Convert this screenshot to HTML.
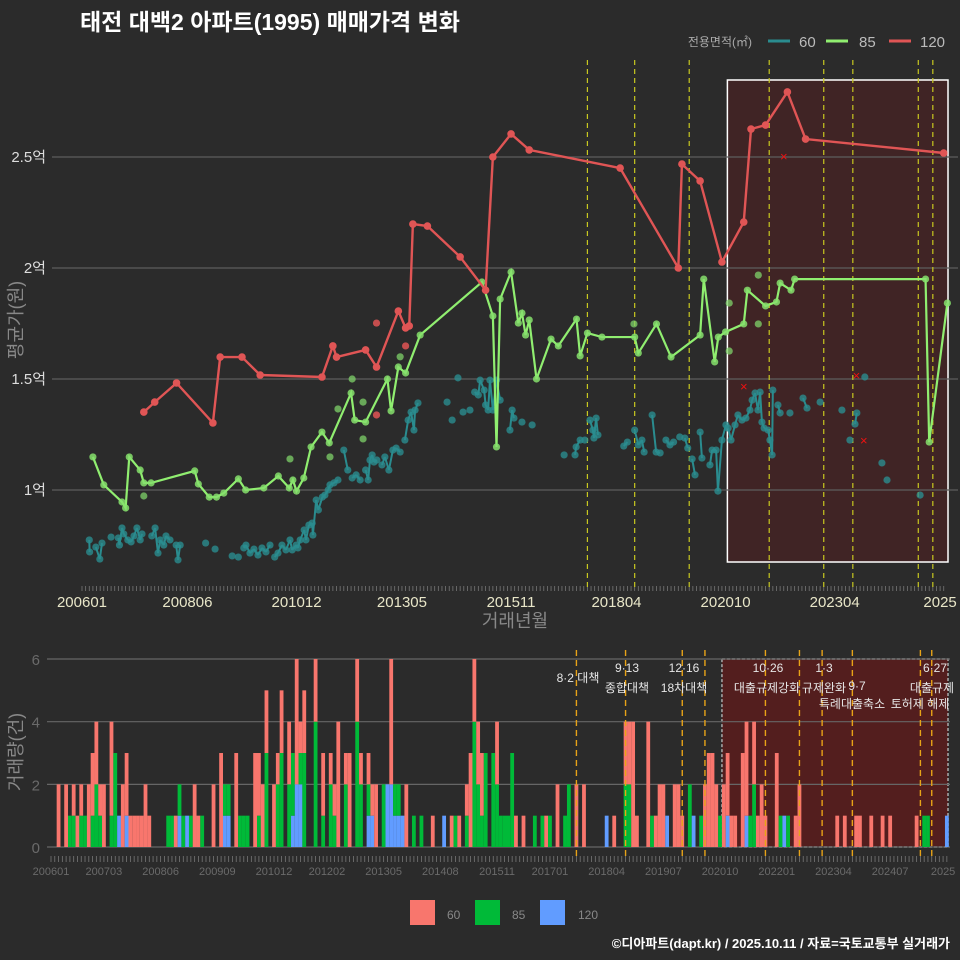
<!DOCTYPE html>
<html><head><meta charset="utf-8"><style>
html,body{margin:0;padding:0;background:#2b2b2b;}
svg{display:block;font-family:"Liberation Sans","Noto Sans CJK KR",sans-serif;}
</style></head><body>
<svg id="chart" width="960" height="960" viewBox="0 0 960 960">
<rect x="0" y="0" width="960" height="960" fill="#2b2b2b"/>
<text x="80" y="30" font-size="23" font-weight="bold" fill="#ffffff">태전 대백2 아파트(1995) 매매가격 변화</text>
<g>
<text x="752" y="46" font-size="12" fill="#aaaaaa" text-anchor="end">전용면적(㎡)</text>
<line x1="768" y1="41" x2="790" y2="41" stroke="#2a8c8f" stroke-width="3"/>
<text x="799" y="47" font-size="15" fill="#bbbbbb">60</text>
<line x1="826" y1="41" x2="848" y2="41" stroke="#90ee70" stroke-width="3"/>
<text x="859" y="47" font-size="15" fill="#bbbbbb">85</text>
<line x1="889" y1="41" x2="911" y2="41" stroke="#e05555" stroke-width="3"/>
<text x="920" y="47" font-size="15" fill="#bbbbbb">120</text>
</g>
<g id="topPlot"></g>
<g id="botPlot"></g>
<text x="515" y="627" font-size="18" fill="#888888" text-anchor="middle">거래년월</text>
<text transform="translate(22,320) rotate(-90)" font-size="18" fill="#888888" text-anchor="middle">평균가(원)</text>
<text transform="translate(22,752) rotate(-90)" font-size="18" fill="#888888" text-anchor="middle">거래량(건)</text>
<g>
<rect x="410" y="900" width="25" height="25" fill="#f8766d"/>
<text x="447" y="919" font-size="12" fill="#888888">60</text>
<rect x="475" y="900" width="25" height="25" fill="#00ba38"/>
<text x="512" y="919" font-size="12" fill="#888888">85</text>
<rect x="540" y="900" width="25" height="25" fill="#619cff"/>
<text x="578" y="919" font-size="12" fill="#888888">120</text>
</g>
<text x="950" y="948" font-size="13" font-weight="bold" fill="#ffffff" text-anchor="end">©디아파트(dapt.kr) / 2025.10.11 / 자료=국토교통부 실거래가</text>
</svg>
<script>
const redMonths=[17,20,26,36,38,44,49,66,69,70,78,81,87,89,90,91,95,104,111,113,118,123,148,164,165,170,176,182,184,188,194,199,237];
const redValues=[1.351,1.396,1.482,1.302,1.599,1.599,1.518,1.509,1.649,1.599,1.631,1.554,1.806,1.730,1.739,2.198,2.189,2.05,1.90,2.5,2.604,2.532,2.45,2.0,2.468,2.392,2.027,2.207,2.626,2.644,2.793,2.581,2.518];
const redExtraMonths=[81,81,89];
const redExtraValues=[1.752,1.338,1.649];
const crossMonths=[182,193,213,215];
const crossValues=[1.464,2.5,1.514,1.221];
const greenMonths=[3,6,11,12,13,16,17,19,31,32,35,37,39,43,45,50,54,57,58,59,61,63,66,68,74,75,78,84,85,87,89,93,110,113,114,115,118,120,121,122,123,125,129,131,136,137,139,143,152,153,158,162,170,171,174,175,177,182,183,188,191,192,195,196,232,233,238];
const greenValues=[1.149,1.023,0.946,0.919,1.149,1.09,1.032,1.032,1.086,1.027,0.968,0.968,0.986,1.05,1.0,1.009,1.063,1.009,1.045,0.995,1.054,1.194,1.261,1.212,1.437,1.315,1.306,1.5,1.356,1.554,1.527,1.698,1.937,1.784,1.194,1.86,1.982,1.752,1.797,1.698,1.766,1.5,1.68,1.649,1.77,1.604,1.707,1.689,1.689,1.617,1.748,1.599,1.698,1.95,1.577,1.689,1.712,1.748,1.9,1.829,1.847,1.932,1.9,1.95,1.95,1.216,1.842];
const greenExtraMonths=[57.2,17,74.3,77.3,77.3,70.4,68.2,87.5,151.8,186,186,178,178];
const greenExtraValues=[1.14,0.973,1.5,1.396,1.23,1.365,1.149,1.6,1.748,1.968,1.748,1.842,1.626];
const tealMonths=[2,2.1,3.8,4.9,5.5,8,10,10.3,11,11.5,12.6,13.5,14.3,15.1,16,16.5,19.2,20.1,20.9,21.5,22.5,23.1,24.2,25.9,26.4,27,34,36.6,41.3,43,44.5,45.1,46.2,47.3,48.4,49.5,50.6,51.7,53,53.9,55,56.1,57.2,57.8,58.9,59.4,60,61.1,61.6,62.4,63.3,63.5,64.4,65,66.1,66.8,67.7,68.2,69.3,70.4,72,73.1,74.3,75.4,76.5,78,78.7,79.2,79.8,80.3,81.1,82.5,83.3,84.4,85.5,86.4,87.5,88.8,89.7,90.5,91.3,91.6,92.4,100.4,101.8,103.4,104.8,106.7,108,109,109.5,110.6,111,111.7,112.2,113,114,115,117.7,118.3,118.8,121,123.8,132.6,135.6,135.9,137,138.3,139.7,140.5,140.8,141.4,141.9,149,150,152,153,154,154.6,156.8,157.9,159,160.6,161.7,162.7,164.4,165.8,166.6,167.8,168.6,170,170.5,172.7,173.3,174.4,174.9,176,177.1,177.7,178.5,179.6,180.4,181.5,182.6,183.7,184.3,185.1,185.9,186.5,187,187.6,188.7,189.2,189.8,190,191.4,192,194.7,198.3,199.4,203,209,211.2,212.6,213.1,215.3,220,221.4,230.5];
const tealValues=[0.775,0.721,0.743,0.689,0.761,0.788,0.784,0.752,0.829,0.802,0.775,0.766,0.793,0.829,0.775,0.802,0.793,0.829,0.716,0.775,0.752,0.793,0.775,0.752,0.685,0.752,0.761,0.734,0.703,0.698,0.739,0.752,0.716,0.734,0.707,0.739,0.721,0.752,0.698,0.716,0.752,0.730,0.775,0.730,0.752,0.739,0.775,0.820,0.775,0.842,0.851,0.797,0.955,0.910,0.968,0.977,1.0,1.023,1.032,1.045,1.18,1.09,1.054,1.068,1.045,1.09,1.045,1.135,1.158,1.126,1.135,1.113,1.149,1.09,1.18,1.189,1.171,1.225,1.315,1.351,1.270,1.360,1.392,1.396,1.315,1.505,1.351,1.360,1.441,1.428,1.495,1.45,1.383,1.36,1.495,1.36,1.495,1.405,1.27,1.36,1.324,1.306,1.293,1.158,1.158,1.194,1.225,1.225,1.315,1.27,1.234,1.324,1.248,1.198,1.216,1.27,1.203,1.225,1.171,1.338,1.171,1.167,1.225,1.203,1.216,1.239,1.234,1.189,1.14,1.068,1.261,1.144,1.113,1.18,1.18,0.995,1.225,1.293,1.279,1.225,1.293,1.338,1.315,1.324,1.36,1.405,1.437,1.36,1.441,1.306,1.279,1.27,1.225,1.158,1.45,1.383,1.347,1.347,1.414,1.369,1.396,1.36,1.225,1.297,1.347,1.509,1.122,1.045,0.977];
const yTicks=[1,1.5,2,2.5];
const yTickLabels=["1억","1.5억","2억","2.5억"];
const topTickMonths=[0,29,59,88,118,147,177,207,236];
const topTickLabels=["200601","200806","201012","201305","201511","201804","202010","202304","2025"];
const policyTopMonths=[139,152,167,189,204,212,230,234];
const barMonths=[2,4,5,6,7,8,9,10,11,12,13,14,16,17,18,19,20,21,22,23,24,25,26,31,32,33,34,35,36,37,38,39,40,43,45,46,47,49,50,51,52,54,55,56,57,59,60,61,63,64,65,66,67,70,72,74,75,76,78,79,81,82,84,85,86,88,89,90,91,92,93,94,96,98,101,104,106,107,108,110,111,112,113,114,115,117,118,119,120,121,122,123,125,128,130,131,132,134,136,137,139,141,147,149,152,153,154,155,158,159,160,161,162,163,165,166,167,169,170,172,173,174,175,176,177,178,179,180,181,183,184,185,186,187,188,189,192,193,194,195,197,198,208,210,213,214,217,220,222,229,231,232,237];
const cnt60=[2,2,0,1,1,1,0,2,2,2,1,2,3,0,0,2,2,1,1,1,1,2,1,0,0,1,0,0,0,0,2,1,0,2,3,0,0,3,0,0,0,3,2,2,2,2,1,2,2,0,4,1,2,2,2,1,1,4,1,3,2,1,1,1,2,0,0,4,0,0,0,2,0,0,1,0,1,0,1,1,3,2,2,2,0,0,2,0,0,0,0,1,1,0,0,1,0,2,0,0,2,2,0,1,2,2,4,1,4,0,1,2,2,0,2,2,1,0,0,0,2,3,3,2,0,2,2,1,1,3,3,0,2,1,2,1,3,0,0,0,1,2,1,1,1,1,1,1,1,1,0,0,0];
const cnt85=[0,0,1,1,0,1,1,0,1,2,1,0,1,3,0,0,0,0,0,0,0,0,0,1,1,0,1,1,0,1,0,0,1,0,0,1,1,0,1,1,1,0,1,0,3,0,2,3,2,2,0,1,3,4,1,2,1,0,2,0,4,2,1,0,0,2,0,0,1,1,0,0,1,1,0,0,0,1,0,1,0,4,2,1,3,3,2,1,1,1,3,0,0,1,1,0,1,0,1,2,0,0,0,0,2,2,0,0,0,1,0,0,0,0,0,0,0,2,0,1,0,0,0,0,1,0,0,0,0,0,0,1,2,0,0,0,0,1,0,1,0,0,0,0,0,0,0,0,0,0,1,1,0];
const cnt120=[0,0,0,0,0,0,0,0,0,0,0,0,0,0,1,0,1,0,0,0,0,0,0,0,0,0,1,0,1,0,0,0,0,0,0,1,1,0,0,0,0,0,0,0,0,0,0,0,0,1,2,2,0,0,0,0,0,0,0,0,0,0,1,1,0,0,2,2,1,1,1,0,0,0,0,1,0,0,0,0,0,0,0,0,0,0,0,0,0,0,0,0,0,0,0,0,0,0,0,0,0,0,1,0,0,0,0,0,0,0,0,0,0,1,0,0,0,0,1,0,0,0,0,0,0,0,1,0,0,0,1,0,0,0,0,0,0,0,1,0,0,0,0,0,0,0,0,0,0,0,0,0,1];
const botTicks=[0,2,4,6];
const botTickMonths=[0,14,29,44,59,73,88,103,118,132,147,162,177,192,207,222,236];
const botTickLabels=["200601","200703","200806","200909","201012","201202","201305","201408","201511","201701","201804","201907","202010","202201","202304","202407","2025"];
const policyBotMonths=[139,152,167,173,189,198,204,212,230,233];

const NS="http://www.w3.org/2000/svg";
const xT=m=>82+m*3.636, yT=v=>490-(v-1)*222;
const xB=m=>51+m*3.78, yB=c=>847-c*31.33;
function mk(parent,tag,attrs,text){const e=document.createElementNS(NS,tag);for(const k in attrs)e.setAttribute(k,attrs[k]);if(text!==undefined)e.textContent=text;parent.appendChild(e);return e;}
const topG=document.getElementById('topPlot'), botG=document.getElementById('botPlot');

let hl=mk(topG,'rect',{x:xT(177.5),y:80,width:948-xT(177.5),height:482,fill:'#5a1c1f','fill-opacity':0.45,stroke:'#ffffff','stroke-width':1.5});


yTicks.forEach((v,i)=>{
  let g=mk(topG,'line',{x1:52,x2:958,y1:yT(v),y2:yT(v),stroke:'#5e5e5e','stroke-width':1.2});
  
  
  let t=mk(topG,'text',{x:46,y:yT(v)+5,'font-size':15,fill:'#dddddd','text-anchor':'end'},yTickLabels[i]);
  
  
});
for(let m=0;m<=237;m++){
  let tk=mk(topG,'line',{x1:xT(m),x2:xT(m),y1:586,y2:591,stroke:'#777','stroke-width':0.8});
  
  
}
topTickMonths.forEach((m,i)=>{
  let t=mk(topG,'text',{x:xT(m),y:607,'font-size':15,fill:'#e8e6c8','text-anchor':'middle'},topTickLabels[i]);
  
  
});
policyTopMonths.forEach(m=>{
  let l=mk(topG,'line',{x1:xT(m),x2:xT(m),y1:60,y2:590,stroke:'#c8c820','stroke-width':1.2,'stroke-dasharray':'5,4'});
  
  
});
for(let i=1;i<tealMonths.length;i++){
  if(tealMonths[i]-tealMonths[i-1]<=1.2){
    let s=mk(topG,'line',{x1:xT(tealMonths[i-1]),y1:yT(tealValues[i-1]),x2:xT(tealMonths[i]),y2:yT(tealValues[i]),stroke:'#2a8c8f','stroke-width':2});
    
    
  }
}
tealMonths.forEach((m,i)=>{
  let c=mk(topG,'circle',{cx:xT(m),cy:yT(tealValues[i]),r:3.6,fill:'#2a8c8f','fill-opacity':0.8});
  
  
});
greenExtraMonths.forEach((m,i)=>{
  let c=mk(topG,'circle',{cx:xT(m),cy:yT(greenExtraValues[i]),r:3.6,fill:'#7fd36a','fill-opacity':0.75});
  
  
});
let gp=mk(topG,'polyline',{points:greenMonths.map((m,i)=>xT(m)+','+yT(greenValues[i])).join(' '),fill:'none',stroke:'#90ee70','stroke-width':2.2});


greenMonths.forEach((m,i)=>{
  let c=mk(topG,'circle',{cx:xT(m),cy:yT(greenValues[i]),r:3.6,fill:'#86e06c','fill-opacity':0.85});
  
  
});
redExtraMonths.forEach((m,i)=>{
  let c=mk(topG,'circle',{cx:xT(m),cy:yT(redExtraValues[i]),r:3.6,fill:'#e05555','fill-opacity':0.85});
  
  
});
let rp=mk(topG,'polyline',{points:redMonths.map((m,i)=>xT(m)+','+yT(redValues[i])).join(' '),fill:'none',stroke:'#e05555','stroke-width':2.4});


redMonths.forEach((m,i)=>{
  let c=mk(topG,'circle',{cx:xT(m),cy:yT(redValues[i]),r:3.8,fill:'#e05555'});
  
  
});
crossMonths.forEach((m,i)=>{
  let t=mk(topG,'text',{x:xT(m),y:yT(crossValues[i])+4,'font-size':13,fill:'#ee1111','text-anchor':'middle'},'×');
  
  
});

let bh=mk(botG,'rect',{x:xB(177.5),y:659,width:948-xB(177.5),height:188,fill:'#5a1c1c','fill-opacity':0.85,stroke:'#aaaaaa','stroke-width':1.5,'stroke-dasharray':'3,2'});


botTicks.forEach(c=>{
  let g=mk(botG,'line',{x1:47,x2:950,y1:yB(c),y2:yB(c),stroke:'#666','stroke-width':1.2});
  
  
  let t=mk(botG,'text',{x:40,y:yB(c)+6,'font-size':15,fill:'#6a6a6a','text-anchor':'end'},String(c));
  
  
});
barMonths.forEach((m,i)=>{
  const x=xB(m)-1.9,w=3.8;
  let base=0;
  [[cnt120[i],'#619cff','bar-120'],[cnt85[i],'#00ba38','bar-85'],[cnt60[i],'#f8766d','bar-60']].forEach(([v,col,nm])=>{
    if(v>0){
      let r=mk(botG,'rect',{x:x,y:yB(base+v),width:w,height:yB(base)-yB(base+v),fill:col});
      
      
      base+=v;
    }
  });
});
policyBotMonths.forEach(m=>{
  let l=mk(botG,'line',{x1:xB(m),x2:xB(m),y1:650,y2:858,stroke:'#e8a317','stroke-width':1.4,'stroke-dasharray':'6,4'});
  
  
});
for(let m=0;m<=237;m++){
  let tk=mk(botG,'line',{x1:xB(m),x2:xB(m),y1:856,y2:862,stroke:'#777','stroke-width':0.8});
  
  
}
botTickMonths.forEach((m,i)=>{
  let t=mk(botG,'text',{x:xB(m),y:875,'font-size':11,fill:'#6a6a6a','text-anchor':'middle'},botTickLabels[i]);
  
  
});
const notes=[["8·2 대책",578,682,"middle"],["9·13",627,672,"middle"],["종합대책",627,692,"middle"],["12·16",684,672,"middle"],["18차대책",684,692,"middle"],["10·26",768,672,"middle"],["대출규제강화",767,692,"middle"],["1·3",824,672,"middle"],["규제완화",824,692,"middle"],["9·7",857,690,"middle"],["특례대출축소",852,708,"middle"],["토허제 해제",920,708,"middle"],["6·27",935,672,"middle"],["대출규제",932,692,"middle"]];
notes.forEach(n=>{
  let t=mk(botG,'text',{x:n[1],y:n[2],'font-size':12,fill:'#e6e6e6','text-anchor':n[3]},n[0]);
  
  
});
</script>
</body></html>
